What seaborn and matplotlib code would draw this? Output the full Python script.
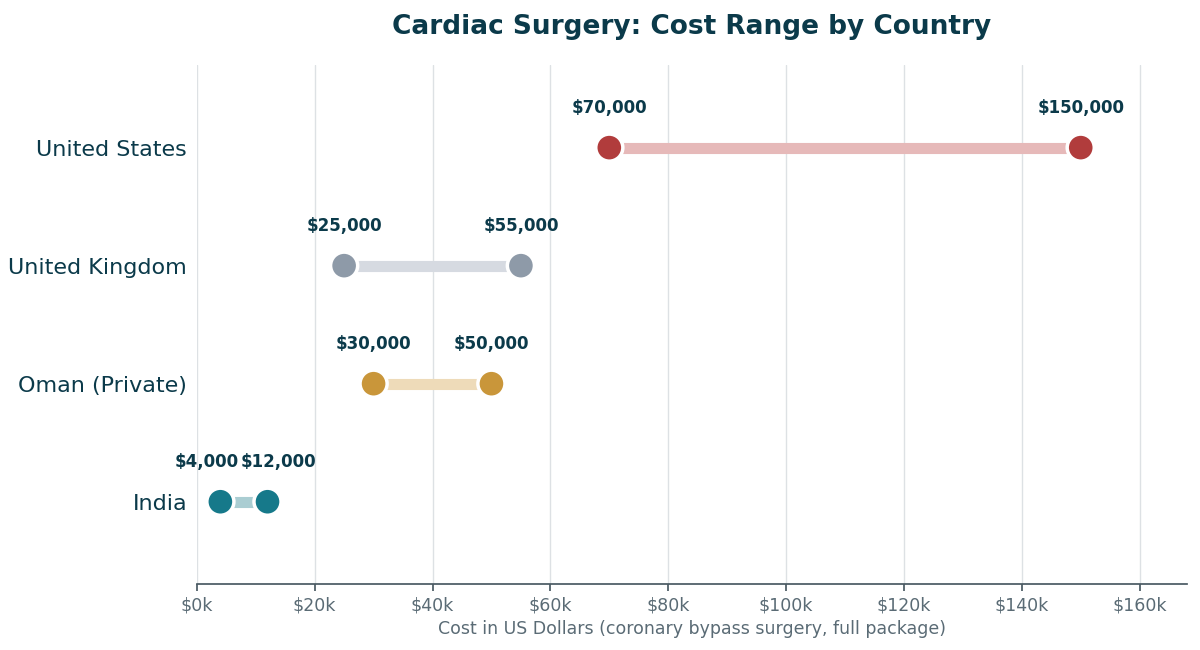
import matplotlib
matplotlib.use("Agg")
import matplotlib.pyplot as plt
import seaborn as sns
import pandas as pd

countries = ["United States", "United Kingdom", "Oman (Private)", "India"]
low = [70000, 25000, 30000, 4000]
high = [150000, 55000, 50000, 12000]
dot_colors = ["#b13c3c", "#8e9aa8", "#c9963a", "#16798a"]
line_colors = ["#e6b9b9", "#d6dae1", "#eedbb9", "#aacdd2"]
xticks = [0, 20000, 40000, 60000, 80000, 100000, 120000, 140000, 160000]
xlabels = ["$0k", "$20k", "$40k", "$60k", "$80k", "$100k", "$120k", "$140k", "$160k"]

sns.set_theme(style="white")
plt.rcParams['font.family'] = ['DejaVu Sans']
fig, ax = plt.subplots(figsize=(12, 6.5), dpi=100)
fig.subplots_adjust(left=0.164, right=0.989, top=0.9, bottom=0.101)

df = pd.DataFrame({"country": countries * 2, "cost": low + high,
                   "kind": ["low"] * 4 + ["high"] * 4})
ax.grid(axis="x", color="#dde1e4", linewidth=1)
ax.set_axisbelow(True)
for i, c in enumerate(countries):
    ax.plot([low[i], high[i]], [i, i], color=line_colors[i], linewidth=8, solid_capstyle="butt", zorder=2)
pal = {c: dot_colors[i] for i, c in enumerate(countries)}
sns.scatterplot(data=df, x="cost", y="country", hue="country", palette=pal, s=380,
                edgecolor="white", linewidth=2.5, legend=False, ax=ax, zorder=3)
for i in range(4):
    for j, v in enumerate((low[i], high[i])):
        dx = 0
        if i == 3:
            dx = -10 if j == 0 else 8
        ax.annotate(f"${v:,.0f}", (v, i), xytext=(dx, 22), textcoords="offset points",
                    ha="center", va="bottom", fontsize=12,
                    fontweight="bold", color="#0b3a4a")

ax.set_xlim(0, 168000)
ax.set_ylim(3.7, -0.7)
ax.set_xticks(xticks)
ax.set_xticklabels(xlabels, fontsize=12.5, color="#5a6b75")
ax.set_yticks(range(4))
ax.set_yticklabels(countries, fontsize=16, color="#0b3a4a")
ax.tick_params(axis="x", length=5, color="#4a5a63", bottom=True)
ax.tick_params(axis="y", length=0, pad=7)
for s in ["top", "right", "left"]:
    ax.spines[s].set_visible(False)
ax.spines["bottom"].set_color("#4a5a63")
ax.set_xlabel("Cost in US Dollars (coronary bypass surgery, full package)", fontsize=12.5, color="#5a6b75")
ax.set_ylabel("")
ax.set_title("Cardiac Surgery: Cost Range by Country", fontsize=19, fontweight="bold",
             color="#0b3a4a", pad=22)
fig.savefig("out.png", dpi=100)
